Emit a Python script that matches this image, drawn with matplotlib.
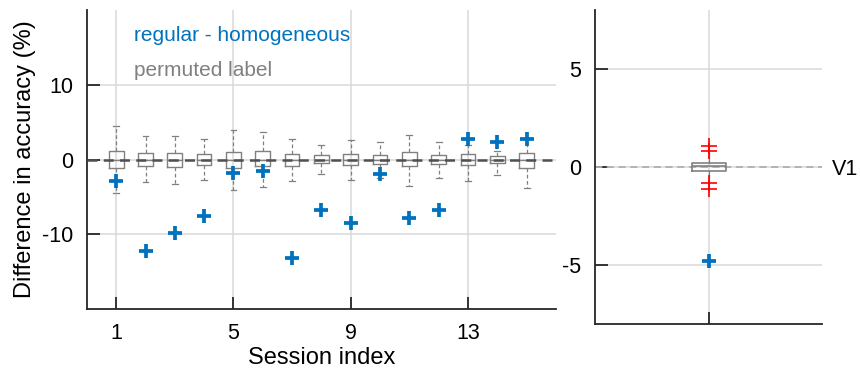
import matplotlib
matplotlib.use("Agg")
import matplotlib.pyplot as plt

plt.rcParams['font.family'] = ['Liberation Sans', 'DejaVu Sans']
plt.rcParams['axes.unicode_minus'] = False

# session-level results
sessions = list(range(1, 16))
reg_minus_hom = [-2.9, -12.3, -9.8, -7.5, -1.75, -1.5, -13.2, -6.7, -8.5, -1.9, -7.8, -6.8, 2.8, 2.3, 2.7]

# permuted-label distributions (box stats)
perm_whislo = [-4.5, -3.0, -3.3, -2.75, -4.05, -3.7, -2.85, -1.95, -2.7, -2.5, -3.5, -2.5, -2.9, -2.0, -3.8]
perm_q1 = [-1.15, -0.85, -1.0, -0.7, -1.1, -0.9, -0.85, -0.5, -0.7, -0.6, -0.9, -0.65, -0.7, -0.5, -1.15]
perm_med = [0.0] * 15
perm_q3 = [1.2, 0.85, 0.85, 0.75, 1.0, 1.1, 0.75, 0.55, 0.7, 0.65, 1.0, 0.65, 0.75, 0.5, 0.85]
perm_whishi = [4.5, 3.2, 3.2, 2.75, 4.0, 3.7, 2.75, 1.95, 2.65, 2.4, 3.3, 2.4, 1.9, 1.2, 2.9]

# pooled V1 results
v1_value = [-4.8]
v1_box = dict(whislo=-0.7, q1=-0.2, med=0.05, q3=0.22, whishi=0.7,
              fliers=[1.08, 0.83, -0.83, -1.1])

blue = '#0072BD'
gray = '#808080'
grid_c = '#d9d9d9'
spine_c = '#262626'

fig = plt.figure(figsize=(8.6, 3.75), dpi=100)
ax = fig.add_axes([0.101, 0.176, 0.5455, 0.797])
ax2 = fig.add_axes([0.692, 0.136, 0.264, 0.837])


def style(a):
    for s in ['top', 'right']:
        a.spines[s].set_visible(False)
    for s in ['left', 'bottom']:
        a.spines[s].set_color(spine_c)
        a.spines[s].set_linewidth(1.3)
    a.tick_params(direction='in', length=9, width=1.3, color=spine_c,
                  labelsize=15.5, pad=10)
    a.grid(True, color=grid_c, linewidth=1.1, zorder=0)
    a.set_axisbelow(True)


# left panel
stats = []
for i in range(len(sessions)):
    stats.append(dict(whislo=perm_whislo[i], q1=perm_q1[i], med=perm_med[i],
                      q3=perm_q3[i], whishi=perm_whishi[i], fliers=[]))
ax.bxp(stats, positions=sessions, widths=0.5, capwidths=0.2, showfliers=False,
       manage_ticks=False,
       boxprops=dict(color=gray, linewidth=1.0),
       whiskerprops=dict(color=gray, linewidth=0.9, linestyle=(0, (3, 2))),
       capprops=dict(color=gray, linewidth=0.9),
       medianprops=dict(color=gray, linewidth=1.0))
ax.axhline(0, color='#505050', linewidth=1.8, linestyle=(0, (4, 2.5)), zorder=3)
ax.plot(sessions, reg_minus_hom, linestyle='none', marker='+', markersize=10.5,
        markeredgewidth=2.7, color=blue, zorder=4)
ax.set_xlim(0, 16)
ax.set_ylim(-20, 20)
ax.set_xticks([1, 5, 9, 13])
ax.set_yticks([-10, 0, 10])
style(ax)
ax.set_xlabel('Session index', fontsize=17, labelpad=2)
ax.set_ylabel('Difference in accuracy (%)', fontsize=17, labelpad=4)
ax.text(1.62, 16.6, 'regular - homogeneous', color=blue, fontsize=15, va='center')
ax.text(1.62, 11.9, 'permuted label', color=gray, fontsize=15, va='center')

# right panel
ax2.bxp([v1_box], positions=[1], widths=0.15, capwidths=0.0, showfliers=True,
        manage_ticks=False,
        boxprops=dict(color=gray, linewidth=1.2),
        whiskerprops=dict(color=gray, linewidth=0.9),
        capprops=dict(color=gray, linewidth=0.0),
        medianprops=dict(color=gray, linewidth=1.2),
        flierprops=dict(marker='+', markersize=11, markeredgewidth=1.2,
                        markeredgecolor='red', linestyle='none'))
ax2.axhline(0, color='#b0b0b0', linewidth=1.3, linestyle=(0, (4, 2.5)), zorder=1)
ax2.plot([1], v1_value, linestyle='none', marker='+', markersize=10.5,
         markeredgewidth=2.7, color=blue, zorder=4)
ax2.set_xlim(0.5, 1.5)
ax2.set_ylim(-8, 8)
ax2.set_xticks([1])
ax2.set_xticklabels([''])
ax2.set_yticks([-5, 0, 5])
style(ax2)

axr = ax2.twinx()
axr.set_ylim(-8, 8)
axr.set_yticks([0])
axr.set_yticklabels(['V1'])
axr.tick_params(length=0, labelsize=15.5, pad=7)
for s in axr.spines.values():
    s.set_visible(False)

fig.savefig('out.png', dpi=100)
